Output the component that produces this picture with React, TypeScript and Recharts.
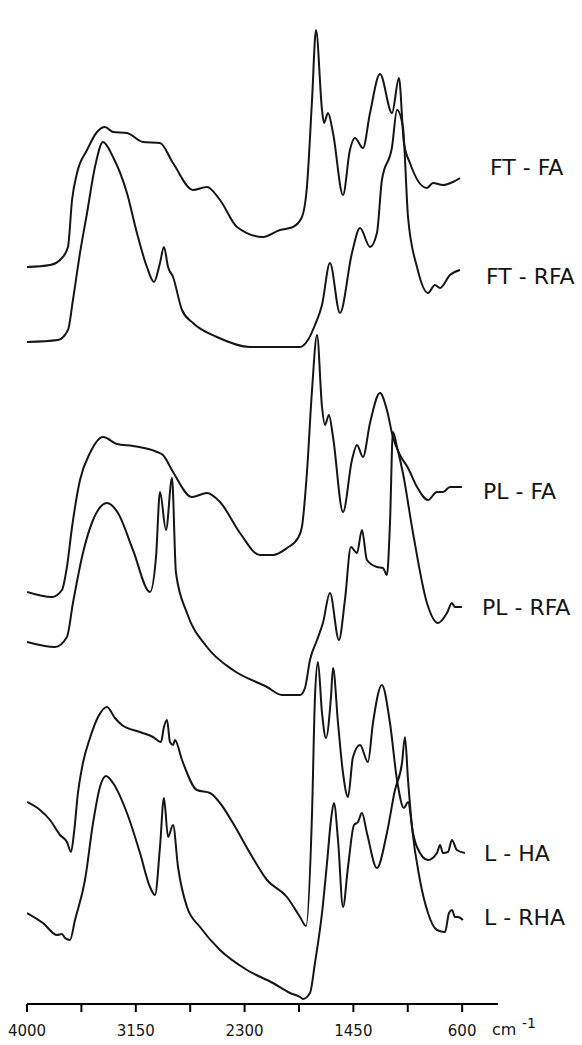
import { LineChart, Line, XAxis, YAxis } from "recharts";

// IR spectra: wavenumber (cm-1) vs. relative absorbance (arbitrary units, curves stacked with offsets)
const ftFa: [number, number][] = [
  [4000, 737], [3820, 739], [3727, 746], [3680, 757], [3648, 804], [3609, 831],
  [3531, 854], [3453, 872], [3391, 877], [3328, 872], [3219, 871], [3094, 862],
  [2961, 861], [2859, 841], [2703, 814], [2594, 817], [2492, 804], [2359, 777],
  [2156, 767], [2023, 774], [1922, 777], [1852, 787], [1813, 817], [1773, 904],
  [1742, 974], [1695, 894], [1680, 881], [1648, 891], [1609, 871], [1531, 809],
  [1477, 854], [1438, 866], [1375, 856], [1320, 891], [1242, 930], [1148, 891],
  [1094, 926], [1055, 861], [1008, 841], [875, 816], [828, 821], [750, 819],
  [672, 822], [617, 826],
];

const ftRfa: [number, number][] = [
  [4000, 662], [3758, 664], [3680, 674], [3641, 704], [3586, 751], [3531, 791],
  [3469, 837], [3406, 862], [3328, 847], [3219, 811], [3141, 771], [3063, 737],
  [3008, 722], [2961, 741], [2930, 757], [2898, 737], [2859, 727], [2789, 694],
  [2703, 681], [2516, 667], [2258, 657], [1867, 657], [1805, 664], [1750, 679],
  [1695, 699], [1633, 741], [1555, 691], [1461, 751], [1398, 776], [1320, 757],
  [1266, 771], [1227, 824], [1148, 857], [1109, 894], [1063, 877], [1023, 787],
  [953, 737], [867, 711], [813, 719], [773, 716], [695, 729], [617, 734],
];

const plFa: [number, number][] = [
  [4000, 412], [3805, 407], [3727, 414], [3688, 437], [3648, 477], [3586, 524],
  [3508, 551], [3406, 567], [3297, 560], [3172, 558], [2984, 552], [2938, 549],
  [2859, 532], [2711, 507], [2594, 511], [2492, 502], [2336, 471], [2180, 449],
  [2078, 449], [1969, 456], [1883, 466], [1852, 477], [1813, 531], [1773, 614],
  [1734, 669], [1695, 597], [1672, 579], [1641, 589], [1609, 567], [1531, 492],
  [1461, 544], [1422, 559], [1375, 547], [1320, 581], [1242, 611], [1188, 594],
  [1141, 567], [1086, 549], [1023, 536], [953, 517], [867, 504], [797, 512],
  [750, 512], [695, 517], [602, 517],
];

const plRfa: [number, number][] = [
  [4000, 362], [3781, 357], [3688, 367], [3641, 401], [3563, 451], [3484, 484],
  [3375, 501], [3289, 491], [3172, 454], [3039, 412], [2992, 447], [2961, 512],
  [2914, 474], [2867, 526], [2836, 431], [2750, 391], [2594, 357], [2391, 334],
  [2125, 317], [2008, 309], [1867, 309], [1828, 316], [1789, 344], [1734, 364],
  [1688, 381], [1633, 411], [1563, 364], [1516, 404], [1469, 457], [1422, 451],
  [1383, 474], [1344, 444], [1266, 437], [1219, 436], [1188, 429], [1164, 481],
  [1141, 572], [1109, 557], [1063, 531], [984, 471], [875, 401], [789, 381],
  [719, 391], [680, 401], [656, 397], [602, 397],
];

const lHa: [number, number][] = [
  [4000, 202], [3898, 194], [3820, 184], [3742, 169], [3688, 162], [3656, 152],
  [3633, 171], [3602, 211], [3563, 241], [3508, 266], [3445, 287], [3375, 297],
  [3313, 286], [3258, 279], [3117, 272], [3016, 267], [2953, 262], [2930, 277],
  [2906, 284], [2883, 262], [2859, 259], [2844, 264], [2789, 244], [2672, 214],
  [2570, 211], [2492, 201], [2391, 181], [2258, 151], [2125, 124], [1969, 107],
  [1867, 87], [1820, 78], [1773, 191], [1750, 307], [1727, 342], [1695, 291],
  [1664, 266], [1625, 307], [1609, 336], [1570, 281], [1531, 231], [1492, 207],
  [1453, 247], [1398, 259], [1336, 242], [1297, 281], [1227, 319], [1164, 281],
  [1109, 224], [1055, 196], [1023, 202], [984, 171], [953, 157], [867, 144],
  [797, 151], [773, 159], [750, 151], [711, 152], [680, 164], [641, 154],
  [578, 151],
];

const lRha: [number, number][] = [
  [4000, 91], [3875, 81], [3766, 69], [3727, 70], [3703, 66], [3664, 64],
  [3625, 84], [3547, 124], [3484, 181], [3430, 217], [3383, 228], [3328, 221],
  [3219, 191], [3117, 151], [3039, 117], [3000, 109], [2961, 157], [2930, 206],
  [2898, 167], [2859, 179], [2820, 137], [2750, 97], [2648, 77], [2492, 54],
  [2281, 34], [2078, 21], [1945, 11], [1867, 7], [1844, 5], [1789, 11],
  [1750, 41], [1695, 91], [1656, 141], [1625, 184], [1602, 201], [1570, 164],
  [1531, 97], [1492, 137], [1445, 179], [1414, 182], [1383, 191], [1344, 171],
  [1266, 136], [1188, 171], [1125, 214], [1070, 241], [1047, 267], [1023, 224],
  [992, 177], [930, 124], [867, 91], [797, 74], [734, 72], [703, 91],
  [680, 94], [656, 87], [633, 87], [594, 84],
];

const SERIES = [
  { name: "FT - FA", data: ftFa },
  { name: "FT - RFA", data: ftRfa },
  { name: "PL - FA", data: plFa },
  { name: "PL - RFA", data: plRfa },
  { name: "L - HA", data: lHa },
  { name: "L - RHA", data: lRha },
];

const X_TICKS = [4000, 3575, 3150, 2725, 2300, 1875, 1450, 1025, 600];
const X_LABELED = [4000, 3150, 2300, 1450, 600];

// where each curve name sits on the page (left edge, vertical centre of the capitals)
const LABEL_POS = [
  [490, 168],
  [486, 277],
  [483, 492],
  [482, 608],
  [484, 854],
  [484, 918],
];

const W = 582;
const H = 1045;
const FONT = "'DejaVu Sans', sans-serif";
const INK = "#151515";

const toPts = (arr: [number, number][]) => arr.map(([wn, a]) => ({ wn, a }));

export default function App() {
  return (
    <div style={{ position: "absolute", left: 0, top: 0, width: W, height: H, background: "#fff" }}>
      <LineChart width={W} height={H} margin={{ top: 9, right: 84, bottom: 0, left: 27 }}>
        <XAxis
          dataKey="wn"
          type="number"
          domain={[320, 4000]}
          reversed
          allowDataOverflow
          ticks={X_TICKS}
          interval={0}
          tickFormatter={(v: number) => (X_LABELED.includes(v) ? String(v) : "")}
          axisLine={{ stroke: "#000", strokeWidth: 2 }}
          tickLine={{ stroke: "#000", strokeWidth: 2 }}
          tickSize={8}
          tickMargin={13}
          height={41}
          tick={{ fill: INK, fontSize: 15, fontFamily: FONT }}
        />
        <YAxis
          type="number"
          domain={[0, 995]}
          allowDataOverflow
          tick={false}
          tickLine={false}
          width={0}
          axisLine={{ stroke: "#000", strokeWidth: 2 }}
        />
        {SERIES.map((s) => (
          <Line
            key={s.name}
            data={toPts(s.data)}
            dataKey="a"
            type="monotone"
            stroke={INK}
            strokeWidth={2}
            dot={false}
            isAnimationActive={false}
          />
        ))}
      </LineChart>
      {SERIES.map((s, i) => (
        <div
          key={s.name}
          style={{
            position: "absolute",
            left: LABEL_POS[i][0],
            top: LABEL_POS[i][1] - 12,
            fontFamily: FONT,
            fontSize: 22,
            lineHeight: "24px",
            whiteSpace: "pre",
            color: INK,
          }}
        >
          {s.name}
        </div>
      ))}
      <div
        style={{
          position: "absolute",
          left: 492,
          top: 1022,
          fontFamily: FONT,
          fontSize: 16,
          lineHeight: "16px",
          color: INK,
        }}
      >
        cm
      </div>
      <div
        style={{
          position: "absolute",
          left: 522,
          top: 1016,
          fontFamily: FONT,
          fontSize: 14,
          lineHeight: "14px",
          color: INK,
          whiteSpace: "pre",
        }}
      >
        -1
      </div>
    </div>
  );
}
